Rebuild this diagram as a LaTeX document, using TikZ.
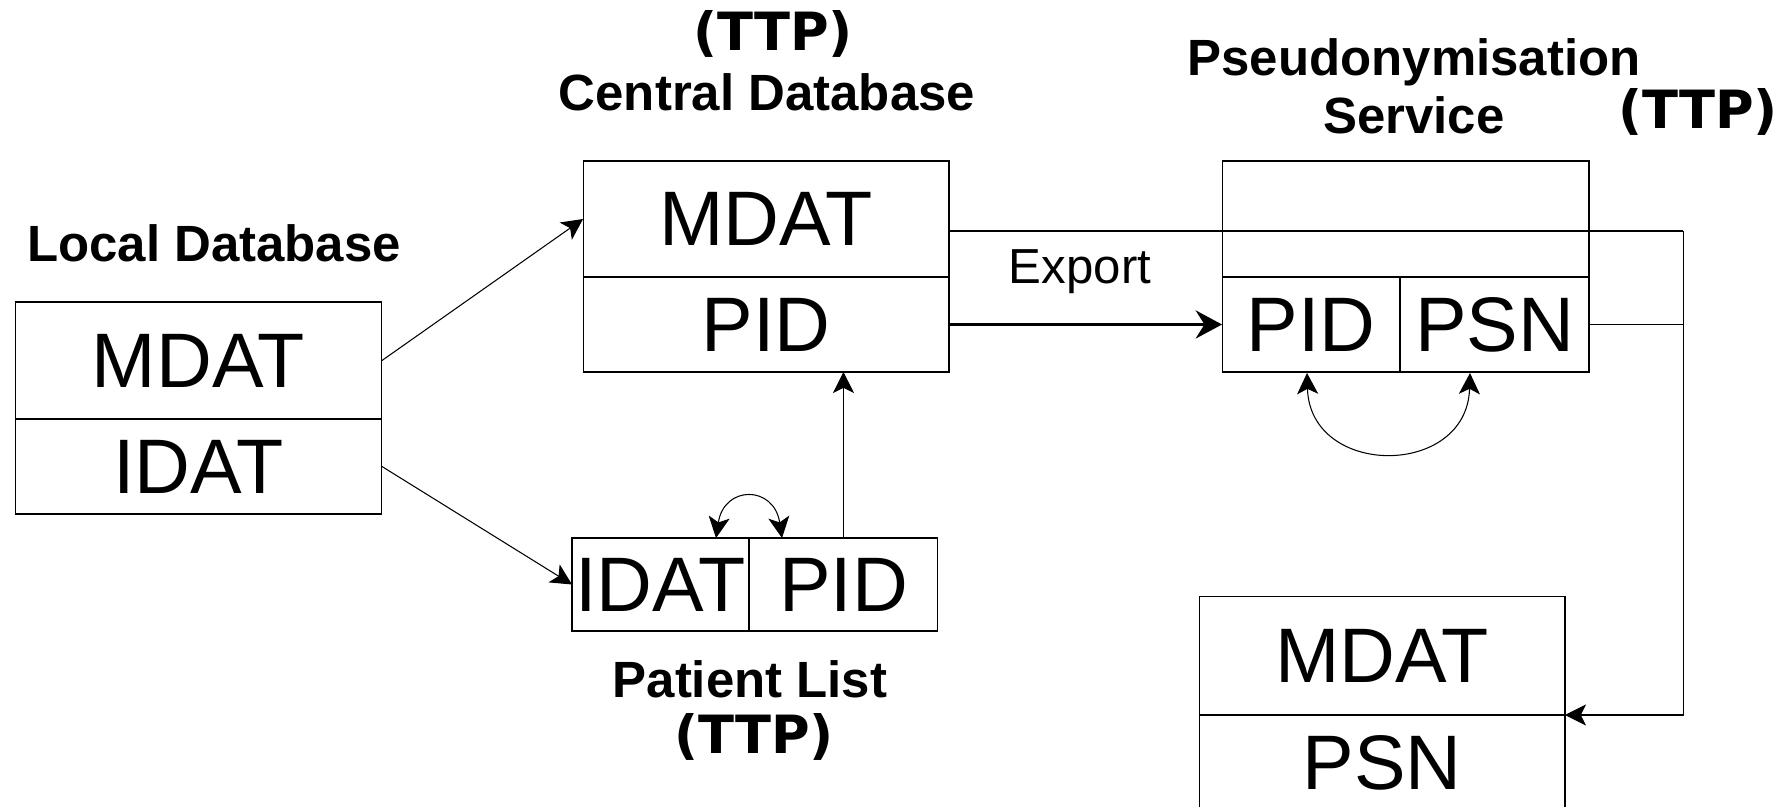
\documentclass[tikz,border=0pt]{standalone}
\usepackage{fontspec}
\setmainfont{Liberation Sans}
\newfontfamily\ttpfont{DejaVu Sans}
\usepackage{tikz}
\usetikzlibrary{arrows.meta,positioning}
\tikzset{
	cell/.style={draw, line width=0.6pt, inner sep=0pt, outer sep=0pt, align=center, font=\fontsize{44}{44}\selectfont},
	arrow/.style={-{Stealth[length=12pt,width=12pt,inset=3pt]}, line width=0.6pt},
	twoarrow/.style={{Stealth[length=12pt,width=12pt,inset=3pt]}-{Stealth[length=12pt,width=12pt,inset=3pt]}, line width=0.6pt},
	thickarrow/.style={-{Stealth[length=15pt,width=16pt,inset=5pt]}, line width=1.8pt},
	wire/.style={line width=0.6pt},
	heading/.style={font=\fontsize{29}{33}\selectfont\bfseries, align=center, inner sep=0pt},
	ttp/.style={font=\fontsize{30}{30}\ttpfont\bfseries, inner sep=0pt}
}

\begin{document}
\begin{tikzpicture}[x=0.02cm, y=-0.02cm]
	\useasboundingbox (0,0) rectangle (1787,806);

	% local database
	\node[cell, minimum width=7.34cm, minimum height=2.34cm] (localM) at (198.5,360.5) {MDAT};
	\node[cell, below=0pt of localM, minimum width=7.34cm, minimum height=1.9cm] (localI) {IDAT};
	\node[heading] (localT) at (214,243) {Local Database};

	% central database
	\node[cell, minimum width=7.32cm, minimum height=2.32cm] (centM) at (766,219) {MDAT};
	\node[cell, below=0pt of centM, minimum width=7.32cm, minimum height=1.9cm] (centP) {PID};
	\node[heading] (centT) at (767,92) {Central Database};
	\node[ttp] (centTTP) at (773,34) {(TTP)};

	% patient list
	\node[cell, minimum width=3.54cm, minimum height=1.86cm] (patI) at (660.5,584.5) {IDAT};
	\node[cell, right=0pt of patI, minimum width=3.78cm, minimum height=1.86cm] (patP) {PID};
	\node[heading] (patT) at (750,679) {Patient List};
	\node[ttp] (patTTP) at (754,737) {(TTP)};

	% pseudonymisation service
	\node[cell, minimum width=7.34cm, minimum height=2.32cm] (pseTop) at (1405.5,219) {};
	\node[cell, anchor=north west, minimum width=3.56cm, minimum height=1.9cm] (psePID) at (pseTop.south west) {PID};
	\node[cell, right=0pt of psePID, minimum width=3.78cm, minimum height=1.9cm] (psePSN) {PSN};
	\node[heading] (pseT) at (1414,86) {Pseudonymisation\\Service};
	\node[ttp] (pseTTP) at (1698,112) {(TTP)};

	% research database
	\node[cell, minimum width=7.32cm, minimum height=2.38cm] (finM) at (1382,655.5) {MDAT};
	\node[cell, below=0pt of finM, minimum width=7.32cm, minimum height=1.9cm] (finP) {PSN};

	\coordinate (bend) at (1683,231);
	\coordinate (plL) at (716,538);
	\coordinate (plR) at (782,538);
	\coordinate (psL) at (1307,373);
	\coordinate (psR) at (1470,373);

	\draw[arrow] (localM.east) -- (centM.west);
	\draw[arrow] (localI.east) -- (patI.west);
	\draw[arrow] (patP.north) -- (patP.north |- centP.south);
	\draw[twoarrow] (plL) .. controls +(8,-53) and +(-8,-53) .. (plR);

	\draw[thickarrow] (centP.east) -- (psePID.west);
	\node[font=\fontsize{28}{28}\selectfont, inner sep=0pt] (exportT) at (1080,272) {Export};
	\draw[twoarrow] (psL) .. controls +(3,105) and +(-3,105) .. (psR);

	\draw[wire] (centM.east |- bend) -- (bend);
	\draw[wire] (psePSN.east) -- (psePSN.east -| bend);
	\draw[arrow] (bend) |- (finM.south east);
\end{tikzpicture}
\end{document}
